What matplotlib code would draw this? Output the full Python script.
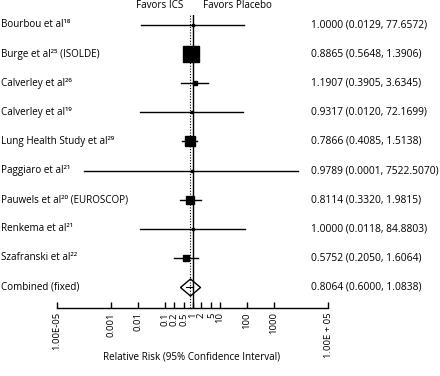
import numpy as np
import matplotlib
matplotlib.use('Agg')
import matplotlib.pyplot as plt

plt.rcParams['font.family'] = ['Open Sans', 'DejaVu Sans']

studies = ['Bourbou et al¹⁸', 'Burge et al²⁵ (ISOLDE)', 'Calverley et al²⁶',
           'Calverley et al¹⁹', 'Lung Health Study et al²⁹', 'Paggiaro et al²¹',
           'Pauwels et al²⁰ (EUROSCOP)', 'Renkema et al²¹', 'Szafranski et al²²']
rr = [1.0000, 0.8865, 1.1907, 0.9317, 0.7866, 0.9789, 0.8114, 1.0000, 0.5752]
lo = [0.0129, 0.5648, 0.3905, 0.0120, 0.4085, 0.0001, 0.3320, 0.0118, 0.2050]
hi = [77.6572, 1.3906, 3.6345, 72.1699, 1.5138, 7522.5070, 1.9815, 84.8803, 1.6064]
# box size ~ study weight
box = [2, 16, 4, 2, 10, 2, 8, 2, 6]

comb_label = 'Combined (fixed)'
comb_rr, comb_lo, comb_hi = 0.8064, 0.6000, 1.0838

tick_vals = [1e-5, 0.001, 0.01, 0.1, 0.2, 0.5, 1, 2, 5, 10, 100, 1000, 1e5]
tick_labels = ['1.00E-05', '0.001', '0.01', '0.1', '0.2', '0.5', '1', '2', '5',
               '10', '100', '1000', '1.00E + 05']

W, H = 440, 376
fig = plt.figure(figsize=(4.4, 3.76), dpi=100)
ax = fig.add_axes([57 / W, (H - 308) / H, 271 / W, (308 - 15) / H])
ax.set_xscale('log')
ax.set_xlim(1e-5, 1e5)
ax.set_ylim(9.72, -0.34)

n = len(studies)
for i in range(n):
    ax.plot([lo[i], hi[i]], [i, i], color='black', lw=1, zorder=3)
    ax.plot(rr[i], i, marker='s', color='black', ms=box[i] * 0.72, zorder=4)

# combined diamond
yc = n
dia = [(-1, 0), (0, 0.85), (1, 0), (0, -0.85), (-1, 0)]
ax.plot(comb_rr, yc, marker=dia, ms=20 * 0.72, mfc='white', mec='black',
        mew=1, zorder=2)
ax.plot([comb_lo, comb_hi], [yc, yc], color='black', lw=0.8, zorder=5)

ax.axvline(1, color='black', lw=1, zorder=3)
ax.axvline(comb_rr, color='black', lw=0.8, ls=(0, (1, 1.5)), zorder=3)

for s in ['top', 'left', 'right']:
    ax.spines[s].set_visible(False)
ax.spines['bottom'].set_linewidth(1)
ax.set_yticks([])
ax.set_xticks(tick_vals)
ax.set_xticklabels(tick_labels, rotation=90, fontsize=6.8)
ax.minorticks_off()
ax.tick_params(axis='x', direction='in', length=4.5, width=1, pad=3)

trans_l = matplotlib.transforms.blended_transform_factory(fig.transFigure, ax.transData)
labels = studies + [comb_label]
vals = [f'{r:.4f} ({a:.4f}, {b:.4f})' for r, a, b in zip(rr, lo, hi)]
vals.append(f'{comb_rr:.4f} ({comb_lo:.4f}, {comb_hi:.4f})')
for i, (lab, v) in enumerate(zip(labels, vals)):
    ax.text(1 / W, i, lab, transform=trans_l, ha='left', va='center',
            fontsize=7.1, clip_on=False)
    ax.text(311 / W, i, v, transform=trans_l, ha='left', va='center',
            fontsize=7.4, clip_on=False)

fig.text(183 / W, 1 - 6 / H, 'Favors ICS', ha='right', va='center', fontsize=7.1)
fig.text(203 / W, 1 - 6 / H, 'Favors Placebo', ha='left', va='center', fontsize=7.1)
fig.text(192 / W, 1 - 357 / H, 'Relative Risk (95% Confidence Interval)',
         ha='center', va='center', fontsize=7.1)

fig.savefig('out.png', dpi=100)
